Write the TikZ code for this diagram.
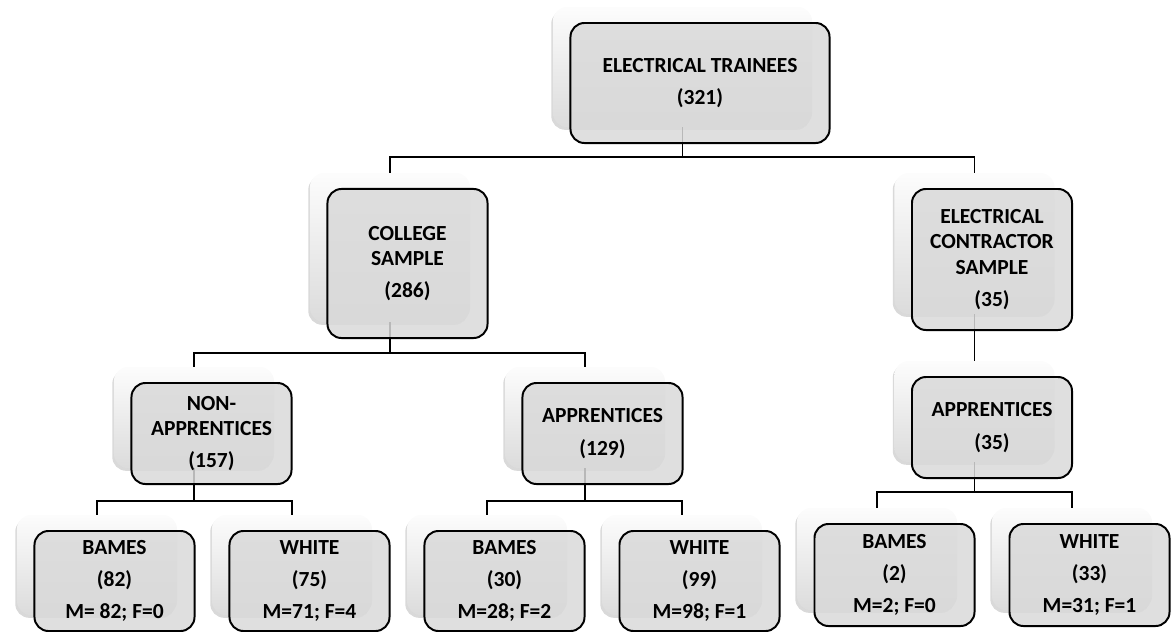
\documentclass[tikz,border=0pt]{standalone}
\usepackage{fontspec}
\setmainfont{Carlito}
\usetikzlibrary{shadows}

\definecolor{boxgrey}{RGB}{217,217,217}

\begin{document}
\begin{tikzpicture}[x=0.025cm, y=-0.025cm,
  back/.style={rounded corners=0.35cm, top color=gray!2, bottom color=gray!28, draw=none,
    drop shadow={shadow xshift=-1.2pt, shadow yshift=-2pt, opacity=0.3}, inner sep=0pt},
  front/.style={rounded corners=0.35cm, draw=black, line width=1.4pt, fill=boxgrey,
    fill opacity=0.85, text opacity=1, align=center, inner sep=0pt,
    font=\bfseries\fontsize{15.3}{18}\selectfont},
  link/.style={line width=1.3pt, draw=black}]

  \useasboundingbox (0,0) rectangle (1173,632);

  %% back boxes (the connectors meet these)
  \node[back, minimum width=6.475cm, minimum height=3cm] (et) at (682.5,67) {};
  \node[back, minimum width=4cm, minimum height=3.725cm] (college) at (390,247.5) {};
  \node[back, minimum width=4cm, minimum height=3.525cm] (contractor) at (974.5,243.5) {};
  \node[back, minimum width=4cm, minimum height=2.525cm] (nonapp) at (194,417.5) {};
  \node[back, minimum width=4cm, minimum height=2.525cm] (collapp) at (585,417.5) {};
  \node[back, minimum width=4cm, minimum height=2.525cm] (contapp) at (974.5,411.5) {};
  \node[back, minimum width=4cm, minimum height=2.5cm] (bames1) at (97,565) {};
  \node[back, minimum width=4cm, minimum height=2.5cm] (white1) at (292,565) {};
  \node[back, minimum width=4cm, minimum height=2.5cm] (bames2) at (487,565) {};
  \node[back, minimum width=4cm, minimum height=2.5cm] (white2) at (682,565) {};
  \node[back, minimum width=4cm, minimum height=2.55cm] (bames3) at (877,559) {};
  \node[back, minimum width=4cm, minimum height=2.55cm] (white3) at (1072,559) {};

  %% connectors
  \coordinate (j1) at (682.5,157);
  \draw[link] (et.south) -- (j1);
  \draw[link] (college.north) |- (j1) -| (contractor.north);

  \coordinate (j2) at (390,353);
  \draw[link] (college.south) -- (j2);
  \draw[link] (nonapp.north) |- (j2) -| (collapp.north);

  \draw[link] (contractor.south) -- (contapp.north);

  \coordinate (j3) at (194,501);
  \draw[link] (nonapp.south) -- (j3);
  \draw[link] (bames1.north) |- (j3) -| (white1.north);

  \coordinate (j4) at (585,501);
  \draw[link] (collapp.south) -- (j4);
  \draw[link] (bames2.north) |- (j4) -| (white2.north);

  \coordinate (j5) at (974.5,492);
  \draw[link] (contapp.south) -- (j5);
  \draw[link] (bames3.north) |- (j5) -| (white3.north);

  %% front boxes with the text
  \node[front, minimum width=6.475cm, minimum height=3cm] (et front)
    at ([shift={(17.5,16)}]et.center) {ELECTRICAL TRAINEES\\[5pt](321)};
  \node[front, minimum width=4cm, minimum height=3.725cm] (college front)
    at ([shift={(17.5,16)}]college.center) {COLLEGE\\SAMPLE\\[5pt](286)};
  \node[front, minimum width=4cm, minimum height=3.525cm] (contractor front)
    at ([shift={(17.5,16)}]contractor.center) {ELECTRICAL\\CONTRACTOR\\SAMPLE\\[5pt](35)};
  \node[front, minimum width=4cm, minimum height=2.525cm] (nonapp front)
    at ([shift={(17.5,16)}]nonapp.center) {NON-\\APPRENTICES\\[5pt](157)};
  \node[front, minimum width=4cm, minimum height=2.525cm] (collapp front)
    at ([shift={(17.5,16)}]collapp.center) {APPRENTICES\\[5pt](129)};
  \node[front, minimum width=4cm, minimum height=2.525cm] (contapp front)
    at ([shift={(17.5,16)}]contapp.center) {APPRENTICES\\[5pt](35)};

  % bottom row
  \node[front, minimum width=4cm, minimum height=2.5cm] (bames1 front)
    at ([shift={(17.5,16)}]bames1.center) {BAMES\\[5pt](82)\\[5pt]M= 82; F=0};
  \node[front, minimum width=4cm, minimum height=2.5cm] (white1 front)
    at ([shift={(17.5,16)}]white1.center) {WHITE\\[5pt](75)\\[5pt]M=71; F=4};
  \node[front, minimum width=4cm, minimum height=2.5cm] (bames2 front)
    at ([shift={(17.5,16)}]bames2.center) {BAMES\\[5pt](30)\\[5pt]M=28; F=2};
  \node[front, minimum width=4cm, minimum height=2.5cm] (white2 front)
    at ([shift={(17.5,16)}]white2.center) {WHITE\\[5pt](99)\\[5pt]M=98; F=1};
  \node[front, minimum width=4cm, minimum height=2.55cm] (bames3 front)
    at ([shift={(17.5,16)}]bames3.center) {BAMES\\[5pt](2)\\[5pt]M=2; F=0};
  \node[front, minimum width=4cm, minimum height=2.55cm] (white3 front)
    at ([shift={(17.5,16)}]white3.center) {WHITE\\[5pt](33)\\[5pt]M=31; F=1};

\end{tikzpicture}
\end{document}
